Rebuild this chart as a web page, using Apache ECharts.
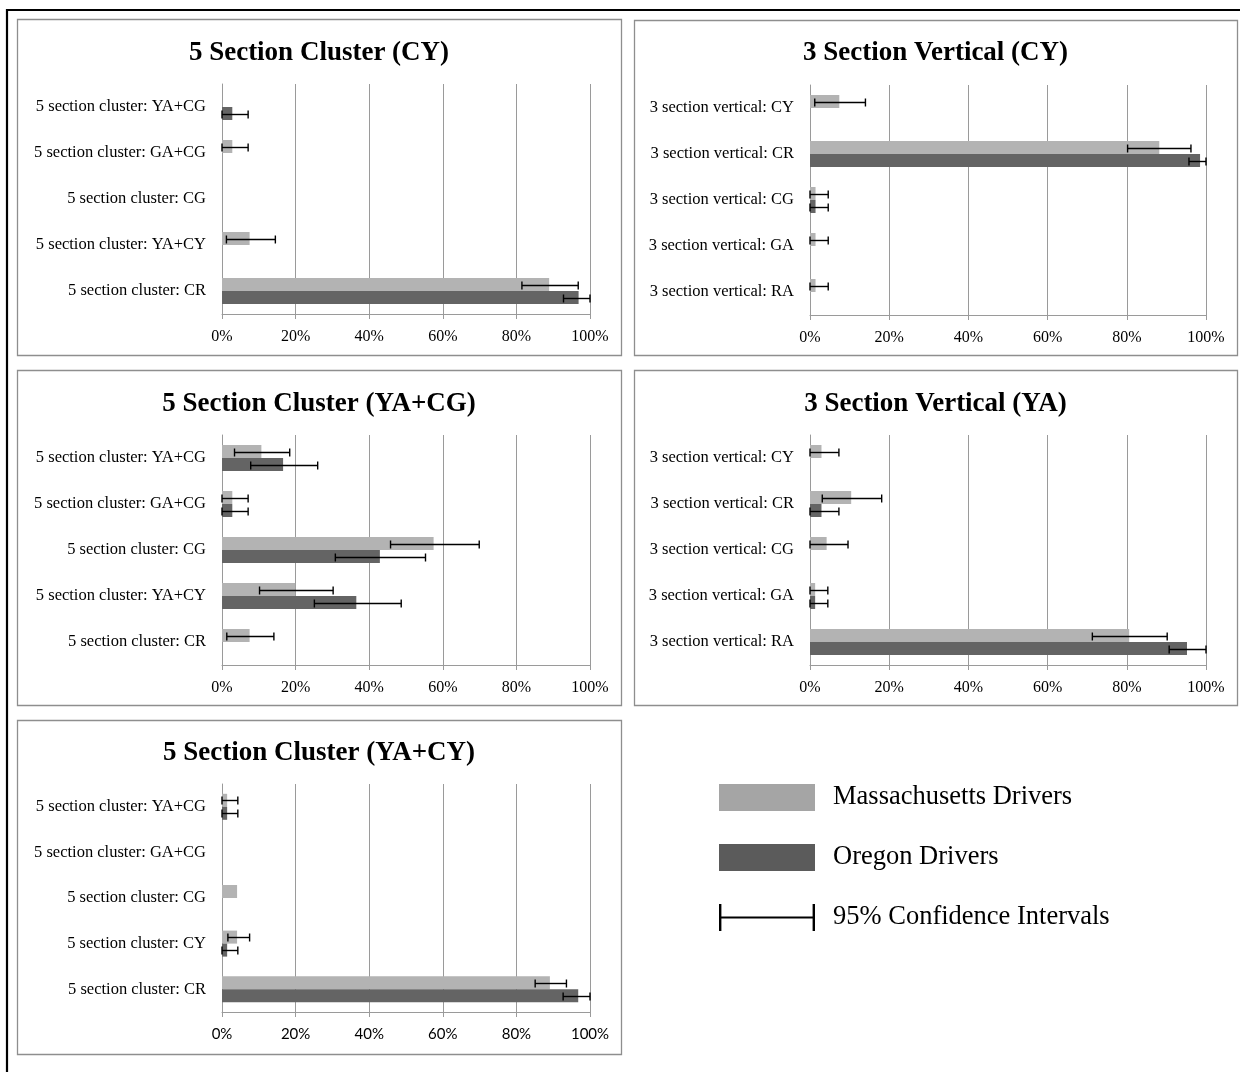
<!DOCTYPE html>
<html>
<head>
<meta charset="utf-8">
<script src="https://cdn.jsdelivr.net/npm/echarts@6/dist/echarts.min.js"></script>
<style>
html,body{margin:0;padding:0;background:#fff;}
#chart{width:1240px;height:1072px;}
</style>
</head>
<body>
<div id="chart"></div>
<script>
// ---------- DATA ----------
const tickValues = [0, 20, 40, 60, 80, 100];
const seriesNames = ['Massachusetts Drivers', 'Oregon Drivers', '95% Confidence Intervals'];

const p1Title = '5 Section Cluster (CY)';
const p1Categories = ['5 section cluster: YA+CG', '5 section cluster: GA+CG', '5 section cluster: CG', '5 section cluster: YA+CY', '5 section cluster: CR'];
const p1Mass = [null, 2.8, null, 7.5, 88.9];
const p1MassLow = [null, 0, null, 1.2, 81.5];
const p1MassHigh = [null, 7.1, null, 14.5, 96.8];
const p1Oregon = [2.8, null, null, null, 96.9];
const p1OregonLow = [0, null, null, null, 92.8];
const p1OregonHigh = [7.1, null, null, null, 100];

const p2Title = '3 Section Vertical (CY)';
const p2Categories = ['3 section vertical: CY', '3 section vertical: CR', '3 section vertical: CG', '3 section vertical: GA', '3 section vertical: RA'];
const p2Mass = [7.4, 88.2, 1.4, 1.4, 1.4];
const p2MassLow = [1.2, 80.2, 0, 0, 0];
const p2MassHigh = [14.0, 96.2, 4.6, 4.6, 4.6];
const p2Oregon = [null, 98.5, 1.4, null, null];
const p2OregonLow = [null, 95.7, 0, null, null];
const p2OregonHigh = [null, 100, 4.6, null, null];

const p3Title = '5 Section Cluster (YA+CG)';
const p3Categories = ['5 section cluster: YA+CG', '5 section cluster: GA+CG', '5 section cluster: CG', '5 section cluster: YA+CY', '5 section cluster: CR'];
const p3Mass = [10.7, 2.8, 57.5, 19.9, 7.5];
const p3MassLow = [3.4, 0, 45.8, 10.2, 1.3];
const p3MassHigh = [18.4, 7.1, 69.9, 30.2, 14.1];
const p3Oregon = [16.6, 2.8, 42.9, 36.5, null];
const p3OregonLow = [7.8, 0, 30.8, 25.1, null];
const p3OregonHigh = [26.0, 7.1, 55.3, 48.7, null];

const p4Title = '3 Section Vertical (YA)';
const p4Categories = ['3 section vertical: CY', '3 section vertical: CR', '3 section vertical: CG', '3 section vertical: GA', '3 section vertical: RA'];
const p4Mass = [2.9, 10.4, 4.2, 1.3, 80.6];
const p4MassLow = [0, 3.1, 0, 0, 71.3];
const p4MassHigh = [7.3, 18.1, 9.6, 4.5, 90.2];
const p4Oregon = [null, 2.9, null, 1.3, 95.2];
const p4OregonLow = [null, 0, null, 0, 90.7];
const p4OregonHigh = [null, 7.3, null, 4.5, 100];

const p5Title = '5 Section Cluster (YA+CY)';
const p5Categories = ['5 section cluster: YA+CG', '5 section cluster: GA+CG', '5 section cluster: CG', '5 section cluster: CY', '5 section cluster: CR'];
const p5Mass = [1.4, null, 4.1, 4.1, 89.1];
const p5MassLow = [0, null, null, 1.6, 85.1];
const p5MassHigh = [4.3, null, null, 7.5, 93.6];
const p5Oregon = [1.4, null, null, 1.4, 96.8];
const p5OregonLow = [0, null, null, 0, 92.7];
const p5OregonHigh = [4.3, null, null, 4.3, 100];

// ---------- LAYOUT ----------
const SERIF = '"Liberation Serif", "Times New Roman", serif';
const panels = [
  {title: p1Title, cats: p1Categories, mass: p1Mass, mLo: p1MassLow, mHi: p1MassHigh, ore: p1Oregon, oLo: p1OregonLow, oHi: p1OregonHigh,
   box: [17, 19, 604, 336], grid: {left: 222, top: 84, width: 368, height: 230}, titleTop: 40, tickFont: SERIF, tickSize: 16},
  {title: p2Title, cats: p2Categories, mass: p2Mass, mLo: p2MassLow, mHi: p2MassHigh, ore: p2Oregon, oLo: p2OregonLow, oHi: p2OregonHigh,
   box: [634, 20, 603, 335], grid: {left: 810, top: 85, width: 396, height: 230}, titleTop: 40, tickFont: SERIF, tickSize: 16},
  {title: p3Title, cats: p3Categories, mass: p3Mass, mLo: p3MassLow, mHi: p3MassHigh, ore: p3Oregon, oLo: p3OregonLow, oHi: p3OregonHigh,
   box: [17, 370, 604, 335], grid: {left: 222, top: 435, width: 368, height: 230}, titleTop: 391, tickFont: SERIF, tickSize: 16},
  {title: p4Title, cats: p4Categories, mass: p4Mass, mLo: p4MassLow, mHi: p4MassHigh, ore: p4Oregon, oLo: p4OregonLow, oHi: p4OregonHigh,
   box: [634, 370, 603, 335], grid: {left: 810, top: 435, width: 396, height: 230}, titleTop: 391, tickFont: SERIF, tickSize: 16},
  {title: p5Title, cats: p5Categories, mass: p5Mass, mLo: p5MassLow, mHi: p5MassHigh, ore: p5Oregon, oLo: p5OregonLow, oHi: p5OregonHigh,
   box: [17, 720, 604, 334], grid: {left: 222, top: 784, width: 368, height: 228}, titleTop: 740, tickFont: 'Lato, "Liberation Sans", sans-serif', tickSize: 15}
];

const MASS_COLOR = '#b3b3b3';
const OREGON_COLOR = '#646464';
const GRID_COLOR = '#9a9a9a';
const BAR_W = 13;

function ciData(lo, hi) {
  const out = [];
  for (let i = 0; i < lo.length; i++) {
    if (lo[i] != null && hi[i] != null) out.push([i, lo[i], hi[i]]);
  }
  return out;
}

function makeCIRender(sign) {
  return function (params, api) {
    const cat = api.value(0), lo = api.value(1), hi = api.value(2);
    const a = api.coord([lo, cat]);
    const b = api.coord([hi, cat]);
    const y = Math.round(a[1] + sign * BAR_W / 2) + 0.5;
    const cap = 4;
    const st = {stroke: '#000', lineWidth: 1.4};
    return {
      type: 'group',
      children: [
        {type: 'line', shape: {x1: a[0], y1: y, x2: b[0], y2: y}, style: st},
        {type: 'line', shape: {x1: a[0], y1: y - cap, x2: a[0], y2: y + cap}, style: st},
        {type: 'line', shape: {x1: b[0], y1: y - cap, x2: b[0], y2: y + cap}, style: st}
      ]
    };
  };
}

const titles = [], grids = [], xAxes = [], yAxes = [], series = [];
const graphics = [
  {type: 'line', shape: {x1: 7, y1: 10, x2: 1245, y2: 10}, style: {stroke: '#000', lineWidth: 2.2}, silent: true},
  {type: 'line', shape: {x1: 7, y1: 9, x2: 7, y2: 1080}, style: {stroke: '#000', lineWidth: 2.2}, silent: true}
];

panels.forEach((p, i) => {
  const cx = p.box[0] + p.box[2] / 2;
  graphics.push({type: 'rect', shape: {x: p.box[0] + 0.5, y: p.box[1] + 0.5, width: p.box[2], height: p.box[3]},
    style: {fill: 'none', stroke: '#8e8e8e', lineWidth: 1.3}, silent: true, z: -1});
  titles.push({text: p.title, left: cx, top: p.titleTop, textAlign: 'center', padding: 0,
    textStyle: {fontFamily: SERIF, fontWeight: 'bold', fontSize: 27, color: '#000'}});
  grids.push(Object.assign({containLabel: false}, p.grid));
  xAxes.push({type: 'value', gridIndex: i, min: 0, max: 100, interval: 20,
    axisLine: {show: true, lineStyle: {color: GRID_COLOR, width: 1}},
    axisTick: {show: true, length: 5, lineStyle: {color: GRID_COLOR}},
    splitLine: {show: true, lineStyle: {color: GRID_COLOR, width: 1}},
    axisLabel: {formatter: '{value}%', color: '#000', fontFamily: p.tickFont, fontSize: p.tickSize, margin: 15}});
  yAxes.push({type: 'category', gridIndex: i, inverse: true, data: p.cats,
    axisLine: {show: true, lineStyle: {color: GRID_COLOR, width: 1}},
    axisTick: {show: false},
    axisLabel: {color: '#000', fontFamily: SERIF, fontSize: 16.5, margin: 16}});
  series.push({name: seriesNames[0], type: 'bar', xAxisIndex: i, yAxisIndex: i, data: p.mass,
    barWidth: BAR_W, barGap: '0%', itemStyle: {color: MASS_COLOR}, silent: true});
  series.push({name: seriesNames[1], type: 'bar', xAxisIndex: i, yAxisIndex: i, data: p.ore,
    barWidth: BAR_W, barGap: '0%', itemStyle: {color: OREGON_COLOR}, silent: true});
  series.push({name: seriesNames[2], type: 'custom', xAxisIndex: i, yAxisIndex: i, z: 5,
    renderItem: makeCIRender(-1), encode: {x: [1, 2], y: 0}, data: ciData(p.mLo, p.mHi), itemStyle: {color: '#000'}, silent: true});
  series.push({name: seriesNames[2], type: 'custom', xAxisIndex: i, yAxisIndex: i, z: 5,
    renderItem: makeCIRender(1), encode: {x: [1, 2], y: 0}, data: ciData(p.oLo, p.oHi), itemStyle: {color: '#000'}, silent: true});
});

const chart = echarts.init(document.getElementById('chart'), null, {renderer: 'canvas'});
chart.setOption({
  backgroundColor: '#fff',
  animation: false,
  title: titles,
  grid: grids,
  xAxis: xAxes,
  yAxis: yAxes,
  legend: {
    orient: 'vertical', left: 719, top: 784, padding: 0, itemWidth: 96, itemHeight: 27, itemGap: 33,
    selectedMode: false,
    textStyle: {fontFamily: SERIF, fontSize: 26.5, color: '#000', padding: [0, 0, 0, 13]},
    data: [
      {name: seriesNames[0], icon: 'rect', itemStyle: {color: '#a5a5a5'}},
      {name: seriesNames[1], icon: 'rect', itemStyle: {color: '#5b5b5b'}},
      {name: seriesNames[2], icon: 'path://M0,0h2.4v27h-2.4z M0,12.6h96v2h-96z M93.6,0h2.4v27h-2.4z', itemStyle: {color: '#000'}}
    ]
  },
  graphic: graphics,
  series: series
});
</script>
</body>
</html>
